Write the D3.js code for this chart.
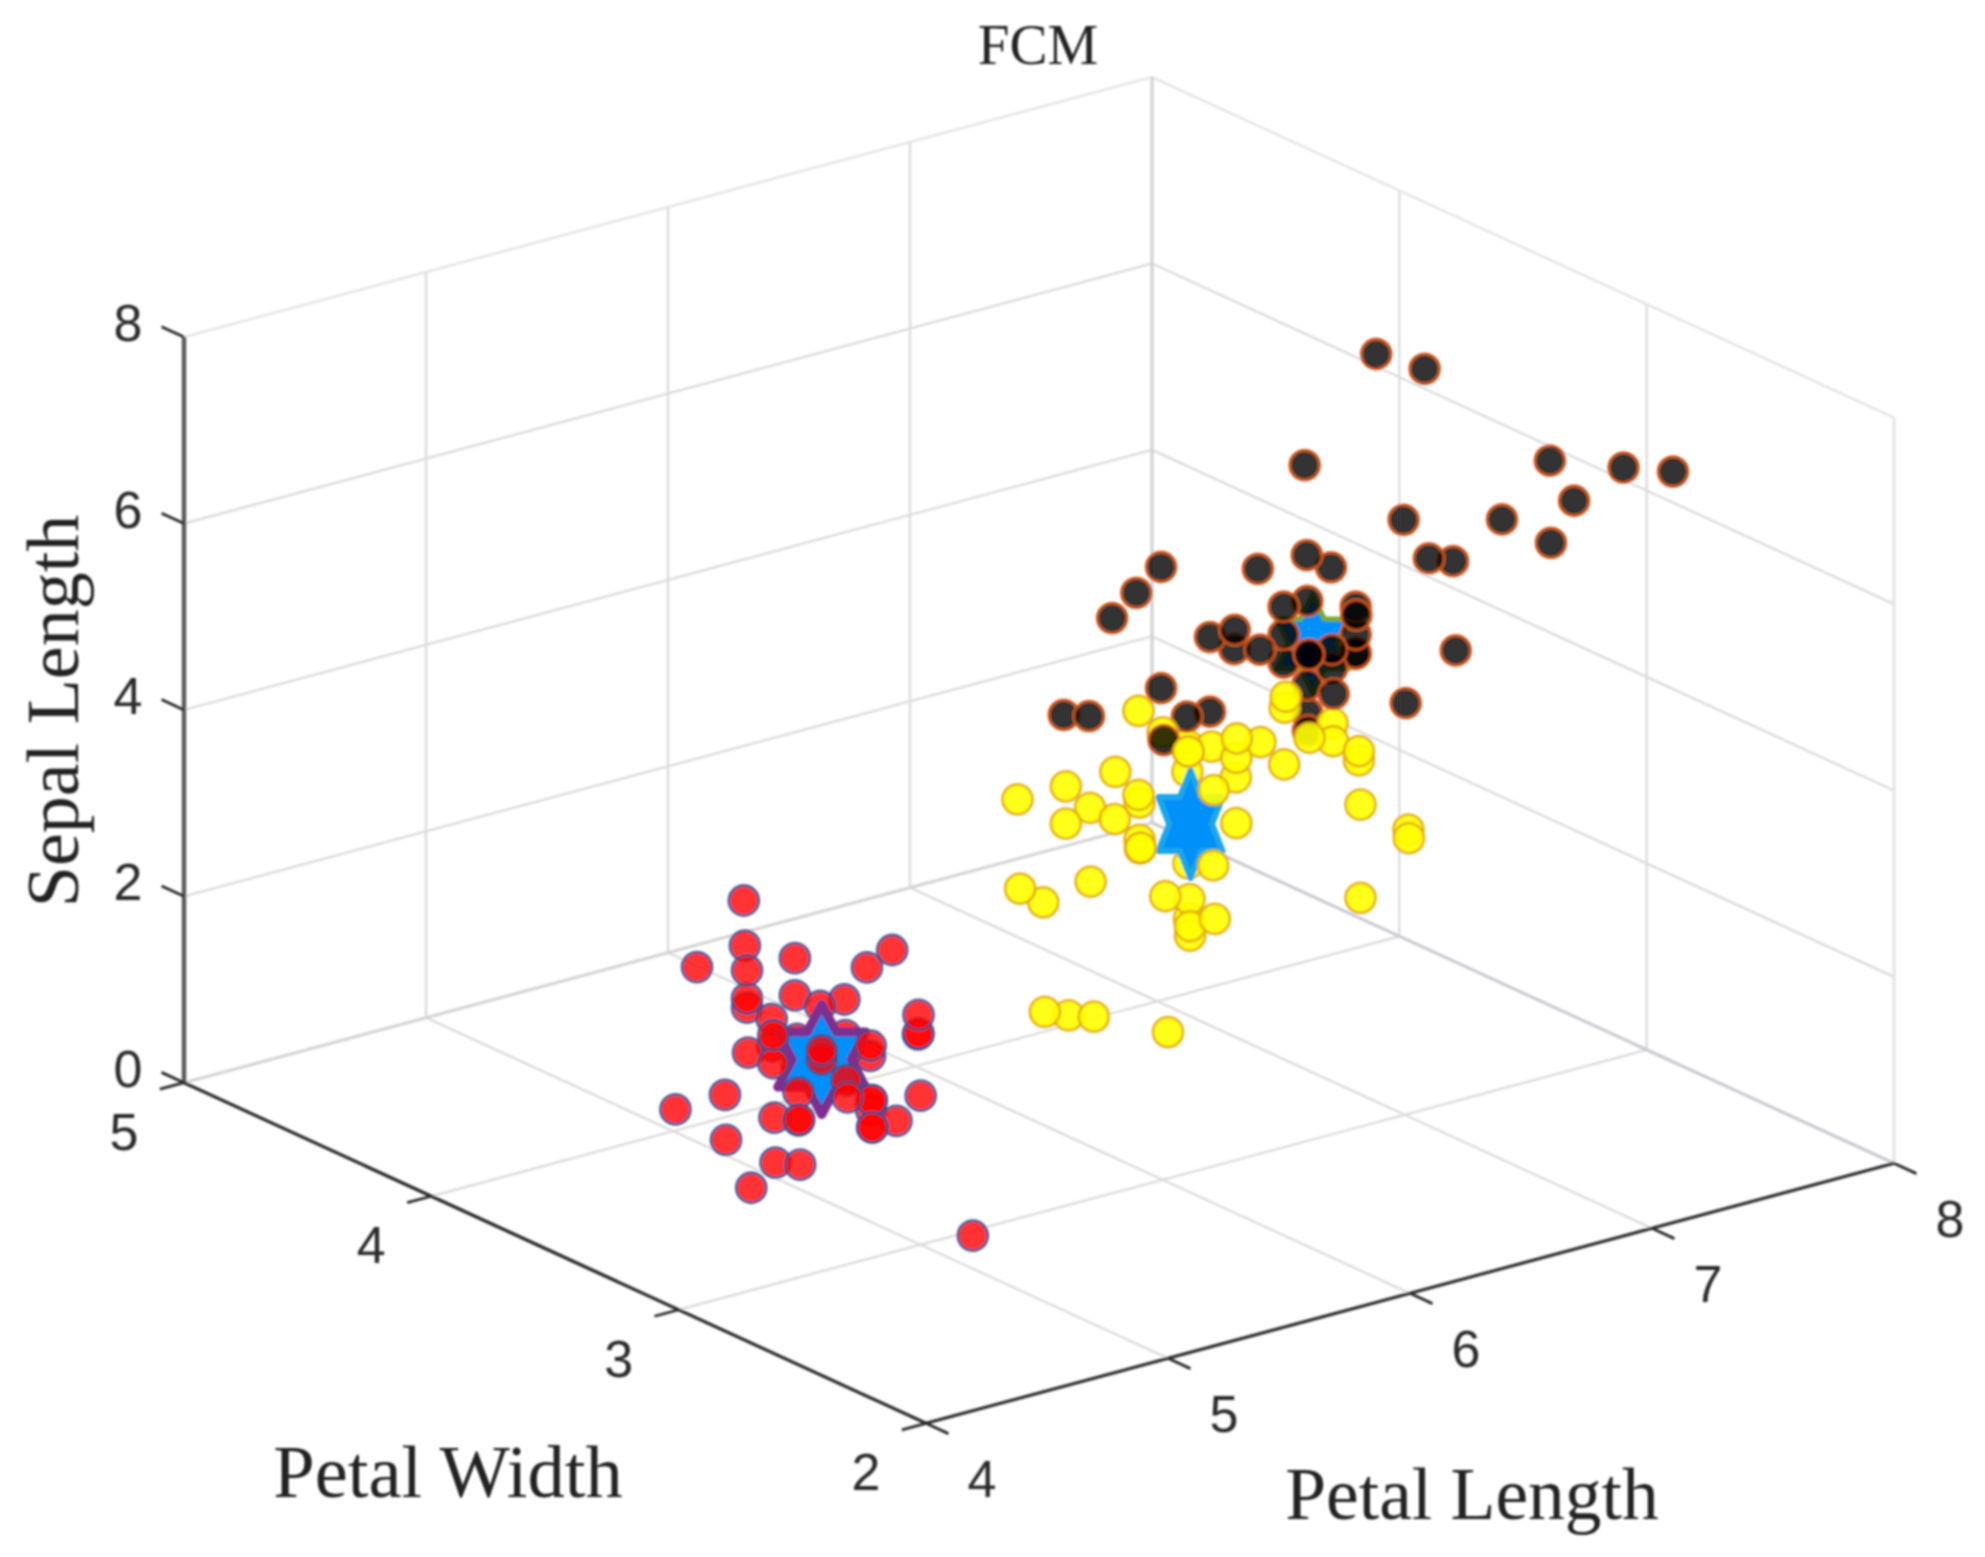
<!DOCTYPE html>
<html><head><meta charset="utf-8"><style>html,body{margin:0;background:#fff}</style>
<script src="https://cdnjs.cloudflare.com/ajax/libs/d3/7.8.5/d3.min.js"></script></head><body>
<svg id="c" width="1985" height="1557"></svg>
<script>
const titleText="FCM", xLabel="Petal Length", yLabel="Petal Width", zLabel="Sepal Length";
const xTicks=[4,5,6,7,8], yTicks=[2,3,4,5], zTicks=[0,2,4,6,8];
const redPoints=[[5.1,3.5,1.4],[4.9,3.0,1.4],[4.7,3.2,1.3],[4.6,3.1,1.5],[5.0,3.6,1.4],[5.4,3.9,1.7],[4.6,3.4,1.4],[5.0,3.4,1.5],[4.4,2.9,1.4],[4.9,3.1,1.5],[5.4,3.7,1.5],[4.8,3.4,1.6],[4.8,3.0,1.4],[4.3,3.0,1.1],[5.8,4.0,1.2],[5.7,4.4,1.5],[5.4,3.9,1.3],[5.1,3.5,1.4],[5.7,3.8,1.7],[5.1,3.8,1.5],[5.4,3.4,1.7],[5.1,3.7,1.5],[4.6,3.6,1.0],[5.1,3.3,1.7],[4.8,3.4,1.9],[5.0,3.0,1.6],[5.0,3.4,1.6],[5.2,3.5,1.5],[5.2,3.4,1.4],[4.7,3.2,1.6],[4.8,3.1,1.6],[5.4,3.4,1.5],[5.2,4.1,1.5],[5.5,4.2,1.4],[4.9,3.1,1.5],[5.0,3.2,1.2],[5.5,3.5,1.3],[4.9,3.6,1.4],[4.4,3.0,1.3],[5.1,3.4,1.5],[5.0,3.5,1.3],[4.5,2.3,1.3],[4.4,3.2,1.3],[5.0,3.5,1.6],[5.1,3.8,1.9],[4.8,3.0,1.4],[5.1,3.8,1.6],[4.6,3.2,1.4],[5.3,3.7,1.5],[5.0,3.3,1.4]];
const yellowPoints=[[5.5,2.3,4.0],[6.5,2.8,4.6],[5.7,2.8,4.5],[4.9,2.4,3.3],[6.6,2.9,4.6],[5.2,2.7,3.9],[5.0,2.0,3.5],[5.9,3.0,4.2],[6.0,2.2,4.0],[6.1,2.9,4.7],[5.6,2.9,3.6],[5.6,3.0,4.5],[5.8,2.7,4.1],[6.2,2.2,4.5],[5.6,2.5,3.9],[6.1,2.8,4.0],[6.3,2.5,4.9],[6.1,2.8,4.7],[6.4,2.9,4.3],[6.0,2.9,4.5],[5.7,2.6,3.5],[5.5,2.4,3.8],[5.5,2.4,3.7],[5.8,2.7,3.9],[6.0,2.7,5.1],[5.4,3.0,4.5],[6.3,2.3,4.4],[5.6,3.0,4.1],[5.5,2.5,4.0],[5.5,2.6,4.4],[6.1,3.0,4.6],[5.8,2.6,4.0],[5.0,2.3,3.3],[5.6,2.7,4.2],[5.7,3.0,4.2],[5.7,2.9,4.2],[6.2,2.9,4.3],[5.1,2.5,3.0],[5.7,2.8,4.1],[5.8,2.7,5.1],[4.9,2.5,4.5],[5.7,2.5,5.0],[6.0,2.2,5.0],[5.6,2.8,4.9],[6.3,2.7,4.9],[6.2,2.8,4.8],[6.3,2.8,5.1],[6.0,3.0,4.8],[5.8,2.7,5.1],[6.3,2.5,5.0],[5.9,3.0,5.1],[6.1,2.6,5.6]];
const blackPoints=[[7.0,3.2,4.7],[6.9,3.1,4.9],[6.7,3.0,5.0],[6.0,3.4,4.5],[5.9,3.2,4.8],[6.3,3.3,6.0],[7.1,3.0,5.9],[6.3,2.9,5.6],[6.5,3.0,5.8],[7.6,3.0,6.6],[7.3,2.9,6.3],[6.7,2.5,5.8],[7.2,3.6,6.1],[6.5,3.2,5.1],[6.4,2.7,5.3],[6.8,3.0,5.5],[6.4,3.2,5.3],[6.5,3.0,5.5],[7.7,3.8,6.7],[7.7,2.6,6.9],[6.9,3.2,5.7],[7.7,2.8,6.7],[6.7,3.3,5.7],[7.2,3.2,6.0],[6.4,2.8,5.6],[7.2,3.0,5.8],[7.4,2.8,6.1],[7.9,3.8,6.4],[6.4,2.8,5.6],[7.7,3.0,6.1],[6.3,3.4,5.6],[6.4,3.1,5.5],[6.9,3.1,5.4],[6.7,3.1,5.6],[6.9,3.1,5.1],[6.8,3.2,5.9],[6.7,3.0,5.2],[6.5,3.0,5.2],[6.2,3.4,5.4],[6.7,3.1,4.7],[6.7,3.1,4.4],[6.6,3.0,4.4],[6.3,3.3,4.7],[6.1,3.0,4.9],[6.4,3.2,4.5],[5.8,2.8,5.1],[6.8,2.8,4.8]];
const centerPoints=[[5.0,3.4,1.5],[5.87,2.76,4.2],[6.67,3.05,5.22]];
// circles that sit in front of the yellow cluster's star regardless of depth
const yellowFront=[[5.9,3.0,4.2]];

const xToU=d3.scaleLinear().domain([4,8]).range([0,968]), xToV=d3.scaleLinear().domain([4,8]).range([0,-260]);
const yToU=d3.scaleLinear().domain([2,5]).range([0,-742]), yToV=d3.scaleLinear().domain([2,5]).range([0,-340.6]);
const zToV=d3.scaleLinear().domain([0,8]).range([0,-745.6]);
const ox=926, oy=1423.3;
const P=(x,y,z)=>[ox+xToU(x)+yToU(y), oy+xToV(x)+yToV(y)+zToV(z)];
const depth=d=>688*(d[0]-4)/4+901*(d[1]-2)/3-282*d[2]/8;

const svg=d3.select("#c");
svg.append("rect").attr("width",1985).attr("height",1557).attr("fill","#fff");
const defs=svg.append("defs");
defs.append("filter").attr("id","soft").attr("x","-2%").attr("y","-2%").attr("width","104%").attr("height","104%")
 .append("feGaussianBlur").attr("stdDeviation",0.9);
const root=svg.append("g").attr("filter","url(#soft)");
const line=(a,b,c,w,g=root)=>{const p=P(...a),q=P(...b);g.append("line").attr("x1",p[0]).attr("y1",p[1]).attr("x2",q[0]).attr("y2",q[1]).attr("stroke",c).attr("stroke-width",w);};
const gridC="#dcdcdc", edgeC="#e4e4e4";
zTicks.slice(1,-1).forEach(z=>{line([4,5,z],[8,5,z],gridC,2.4);line([8,5,z],[8,2,z],gridC,2.4);});
xTicks.slice(1,-1).forEach(x=>{line([x,5,0],[x,5,8],gridC,2.4);line([x,2,0],[x,5,0],gridC,2.4);});
yTicks.slice(1,-1).forEach(y=>{line([8,y,0],[8,y,8],gridC,2.4);line([4,y,0],[8,y,0],gridC,2.4);});
line([4,5,8],[8,5,8],edgeC,2.4);line([8,5,8],[8,2,8],edgeC,2.4);line([8,2,8],[8,2,0],edgeC,3);
line([8,5,0],[8,5,8],"#cfcfd4",3);line([4,5,0],[8,5,0],"#d4d4d4",3);line([8,5,0],[8,2,0],"#c8c8d0",3);
const ink="#2a2a2a";
line([4,5,0],[4,5,8],"#5c5c5c",4.5);line([4,5,0],[4,2,0],ink,3.2);line([4,2,0],[8,2,0],ink,3.2);
const tx=24.7/Math.hypot(742,340.6)*3, ty=25/Math.hypot(968,260)*4, tz=tx;
zTicks.forEach(z=>line([4,5,z],[4,5+tz,z],ink,2.8));
yTicks.forEach(y=>line([4,y,0],[4-ty,y,0],ink,2.8));
xTicks.forEach(x=>line([x,2,0],[x,2-tx,0],ink,2.8));
const tick=(pos,t)=>root.append("text").attr("x",pos[0]).attr("y",pos[1]).attr("text-anchor","middle").attr("dominant-baseline","central")
 .attr("font-family","'Liberation Sans',Arial,sans-serif").attr("font-size",52).attr("fill","#2b2b2b").text(t);
zTicks.forEach(z=>{const p=P(4,5,z);tick([p[0]-56,p[1]-14],z);});
yTicks.forEach(y=>{const p=P(4,y,0);tick([p[0]-60,p[1]+49],y);});
xTicks.forEach(x=>{const p=P(x,2,0);tick([p[0]+56,p[1]+56],x);});
const serif=(x,y,s,t,rot)=>root.append("text").attr("transform",`translate(${x},${y})`+(rot?` rotate(${rot})`:"")).attr("text-anchor","middle").attr("dominant-baseline","central")
 .attr("font-family","'Liberation Serif','Times New Roman',serif").attr("font-size",s).attr("fill","#222").text(t);
serif(1038,44,57,titleText);serif(448,1472,74.5,yLabel);serif(1472,1494,73.5,xLabel);serif(53,711,74,zLabel,-90);

const styles=[{fill:"#ff0000",op:.8,edge:"#3f4f90"},{fill:"#ffff00",op:.9,edge:"#e3a810"},{fill:"#000000",op:.8,edge:"#d95319"}];
const starStyles=[{edge:"#7e2f8e",w:44,r:55,sw:9,z:545},{edge:"#1ea6ea",w:32,r:54,sw:6,z:360},{edge:"#77ac30",w:36,r:50,sw:5,z:660}];
const marks=[];
[redPoints,yellowPoints,blackPoints].forEach((arr,i)=>arr.forEach(d=>{
  const front=i==1&&yellowFront.some(f=>f+""==d+"");
  marks.push({d,kind:"c",s:styles[i],z:front?0:depth(d)});}));
centerPoints.forEach((d,i)=>marks.push({d,kind:"s",s:starStyles[i],z:starStyles[i].z}));
marks.sort((a,b)=>d3.descending(a.z,b.z));
const gm=root.append("g");
const hexagram=s=>{const w=s.w,r=s.r;return d3.line()([[0,-r],[w/3,-r/2],[w,-r/2],[2*w/3,0],[w,r/2],[w/3,r/2],[0,r],[-w/3,r/2],[-w,r/2],[-2*w/3,0],[-w,-r/2],[-w/3,-r/2]])+"Z";};
marks.forEach(m=>{const p=P(...m.d);
 if(m.kind==="c") gm.append("circle").attr("cx",p[0]).attr("cy",p[1]).attr("r",15).attr("fill",m.s.fill).attr("fill-opacity",m.s.op).attr("stroke",m.s.edge).attr("stroke-opacity",.85).attr("stroke-width",2.8);
 else gm.append("path").attr("transform",`translate(${p[0]},${p[1]})`).attr("d",hexagram(m.s)).attr("fill","#0090fa").attr("stroke",m.s.edge).attr("stroke-width",m.s.sw).attr("stroke-linejoin","round");
});
</script></body></html>
